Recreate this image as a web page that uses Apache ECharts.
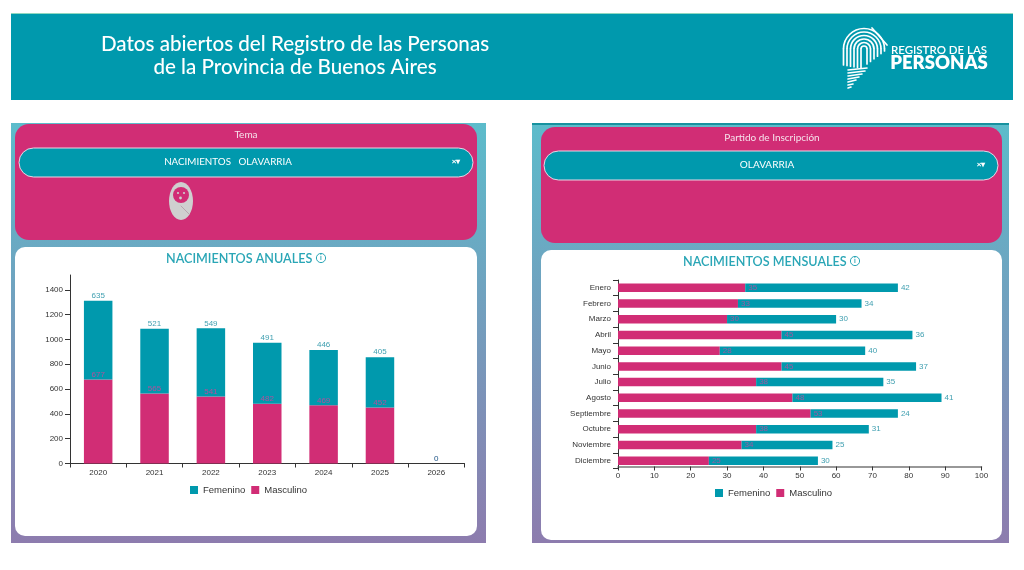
<!DOCTYPE html>
<html><head><meta charset="utf-8">
<style>html,body{margin:0;padding:0;background:#fff;overflow:hidden}#c{width:1024px;height:570px}</style>
<script src="https://cdn.jsdelivr.net/npm/echarts@6/dist/echarts.min.js"></script>
</head><body><div id="c"></div>
<script>
const years = ['2020','2021','2022','2023','2024','2025','2026'];
const yearFem = [635,521,549,491,446,405,0];
const yearMasc = [677,565,541,482,469,452,0];
const yearTicks = [0,200,400,600,800,1000,1200,1400,1520];
const months = ['Enero','Febrero','Marzo','Abril','Mayo','Junio','Julio','Agosto','Septiembre','Octubre','Noviembre','Diciembre'];
const monthFem = [42,34,30,36,40,37,35,41,24,31,25,30];
const monthMasc = [35,33,30,45,28,45,38,48,53,38,34,25];

const TEAL='#0099ad', PINK='#d12d75', F='"Liberation Sans",Arial,sans-serif', H='Lato,sans-serif';
const T=(x,y,text,size,fill,extra)=>({type:'text',z:-1,silent:true,style:Object.assign({x,y,text,fill,font:`${size}px ${H}`,textAlign:'center',textVerticalAlign:'middle'},extra||{})});
const R=(x,y,w,h,r,fill,z,extra)=>({type:'rect',z:z,silent:true,shape:{x,y,width:w,height:h,r},style:Object.assign({fill},extra||{})});
const L=(x1,y1,x2,y2,stroke,lineWidth)=>({type:'line',z:-1,silent:true,shape:{x1,y1,x2,y2},style:{stroke,lineWidth,lineCap:'round'}});
const grad=()=>({type:'linear',x:0,y:0,x2:0,y2:1,colorStops:[{offset:0,color:'#5cbccb'},{offset:1,color:'#8d7cae'}]});

function panels(){
  const g=[];
  g.push(R(11,13,1002,87,0,TEAL,-5));
  g.push(R(11,13,1002,1,0,'#8fd8c0',-4));
  g.push(T(295,44,'Datos abiertos del Registro de las Personas',20.6,'#fff',{font:`500 20.6px ${H}`}));
  g.push(T(295,67,'de la Provincia de Buenos Aires',20.6,'#fff',{font:`500 20.6px ${H}`}));
  // left column
  g.push(R(11,123,475,420,0,grad(),-5));
  g.push(R(15,124,462,116,14,PINK,-4));
  g.push(R(19,148,454,29,14.5,TEAL,-3,{stroke:'#ecd5e4',lineWidth:1}));
  g.push(R(15,247,462,289,10,'#fff',-4));
  g.push(T(246,135,'Tema',10,'#f6e3ec'));
  g.push(T(228,162,'NACIMIENTOS   OLAVARRIA',9.8,'#fff'));
  g.push(T(456,162,'×▾',8,'#fff',{font:`bold 8px ${F}`}));
  // right column
  g.push(R(532,123,477,420,0,grad(),-5));
  g.push(R(532,123,477,2,0,'#17929f',-4));
  g.push(R(541,127,461,116,14,PINK,-4));
  g.push(R(544,151,454,29,14.5,TEAL,-3,{stroke:'#ecd5e4',lineWidth:1}));
  g.push(R(541,250,461,290,10,'#fff',-4));
  g.push(T(772,138,'Partido de Inscripción',10,'#f6e3ec'));
  g.push(T(767,165,'OLAVARRIA',10,'#fff'));
  g.push(T(981,165,'×▾',8,'#fff',{font:`bold 8px ${F}`}));
  // info icons
  [[321,258],[855,261]].forEach(p=>{
    g.push({type:'circle',z:-1,silent:true,shape:{cx:p[0],cy:p[1],r:4.6},style:{fill:'none',stroke:'#2aa6b6',lineWidth:1}});
    g.push(T(p[0],p[1],'i',7,'#2aa6b6',{font:`bold 7px ${H}`}));
  });
  // baby icon
  g.push({type:'ellipse',z:-2,silent:true,shape:{cx:181,cy:201,rx:12,ry:19},style:{fill:'#cfcfcf'}});
  g.push({type:'circle',z:-1,silent:true,shape:{cx:181,cy:195,r:8},style:{fill:PINK}});
  g.push({type:'circle',z:-1,silent:true,shape:{cx:178,cy:193,r:1.1},style:{fill:'#cfcfcf'}});
  g.push({type:'circle',z:-1,silent:true,shape:{cx:184,cy:193,r:1.1},style:{fill:'#cfcfcf'}});
  g.push({type:'circle',z:-1,silent:true,shape:{cx:180.5,cy:198,r:1.4},style:{fill:'#cfcfcf'}});
  g.push(L(181,206,189,214,'#b8a3ad',1));
  // logo: nested fingerprint ridges
  [3,6.5,10,13.5,17,20.5].forEach((r,i)=>{
    g.push({type:'arc',z:-1,silent:true,shape:{cx:864,cy:49,r,startAngle:Math.PI,endAngle:Math.PI*2,clockwise:true},style:{fill:'none',stroke:'#fff',lineWidth:1.7}});
    g.push(L(864-r,49,864-r,68-i*0.6,'#fff',1.7));
    g.push(L(864+r,49,864+r,64-i*2.6,'#fff',1.7));
  });
  g.push(L(872,28,887,45,'#fff',1.7));
  [[848,70,867,68],[848,73,865,71],[848,76,862,74],[848,79,859,77],[848,82,856,80],[848,85,853,84],[848,88,851,87]].forEach(l=>{
    g.push(L(l[0],l[1],l[2],l[3],'#fff',1.6));
  });
  g.push(T(939,50,'REGISTRO DE LAS',11.5,'#fff',{font:`600 11.5px ${H}`}));
  g.push(T(939,63,'PERSONAS',18.5,'#fff',{font:`800 18.5px ${H}`}));
  return g;
}
const axisLine=c=>({show:true,lineStyle:{color:c,width:1}});
const lab={fontFamily:F,fontSize:8,color:'#333'};
const labelOf=(color,pos,dist)=>({show:true,position:pos,distance:dist,color,fontFamily:F,fontSize:8});
const legendText={fontFamily:F,fontSize:9.5,color:'#333'};

const option={
  animation:false,
  backgroundColor:'#fff',
  textStyle:{fontFamily:F},
  title:[
    {text:'NACIMIENTOS ANUALES',left:166,top:252,padding:0,textStyle:{fontFamily:H,fontWeight:600,fontSize:12.6,color:'#2aa6b6'}},
    {text:'NACIMIENTOS MENSUALES',left:683,top:255,padding:0,textStyle:{fontFamily:H,fontWeight:600,fontSize:12.6,color:'#2aa6b6'}}
  ],
  legend:[
    {data:['Femenino','Masculino'],left:190,top:485,itemWidth:8,itemHeight:8,itemGap:6,icon:'rect',padding:0,textStyle:legendText,selectedMode:false},
    {data:['Femenino','Masculino'],left:715,top:488,itemWidth:8,itemHeight:8,itemGap:6,icon:'rect',padding:0,textStyle:legendText,selectedMode:false}
  ],
  grid:[
    {left:70,top:275,width:394.5,height:188.5},
    {left:618,top:280,width:363.5,height:188.5}
  ],
  xAxis:[
    {type:'category',gridIndex:0,data:years,axisLine:axisLine('#333'),axisTick:{show:true,length:4,lineStyle:{color:'#333'}},axisLabel:Object.assign({interval:0,margin:5},lab),splitLine:{show:false}},
    {type:'value',gridIndex:1,offset:-2,min:0,max:100,interval:10,axisLine:{show:true,lineStyle:{color:'#777',width:1.5}},axisTick:{show:true,length:4,lineStyle:{color:'#333'}},axisLabel:Object.assign({margin:5},lab),splitLine:{show:false}}
  ],
  yAxis:[
    {type:'value',gridIndex:0,min:0,max:1520,interval:200,axisLine:axisLine('#333'),axisTick:{show:true,length:5,customValues:yearTicks,lineStyle:{color:'#333'}},axisLabel:Object.assign({margin:7,showMaxLabel:false,formatter:v=>String(v)},lab),splitLine:{show:false}},
    {type:'category',gridIndex:1,inverse:true,data:months,axisLine:axisLine('#333'),axisTick:{show:true,length:5,lineStyle:{color:'#333'}},axisLabel:Object.assign({interval:0,margin:7},lab),splitLine:{show:false}}
  ],
  series:[
    {name:'Masculino',type:'bar',xAxisIndex:0,yAxisIndex:0,stack:'a',data:yearMasc,barWidth:28.5,itemStyle:{color:PINK},label:labelOf('#b0509c','top',1)},
    {name:'Femenino',type:'bar',xAxisIndex:0,yAxisIndex:0,stack:'a',data:yearFem,barWidth:28.5,itemStyle:{color:TEAL},label:labelOf('#3f9fb0','top',1)},
    {name:'Masculino',type:'bar',xAxisIndex:1,yAxisIndex:1,stack:'b',data:monthMasc,barWidth:8.5,itemStyle:{color:PINK},label:labelOf('#9c5aa0','right',3)},
    {name:'Femenino',type:'bar',xAxisIndex:1,yAxisIndex:1,stack:'b',data:monthFem,barWidth:8.5,itemStyle:{color:TEAL},label:labelOf('#3f9fb0','right',3)}
  ],
  graphic:{elements:panels()}
};
const chart=echarts.init(document.getElementById('c'),null,{renderer:'canvas',width:1024,height:570});
chart.setOption(option);
</script></body></html>
